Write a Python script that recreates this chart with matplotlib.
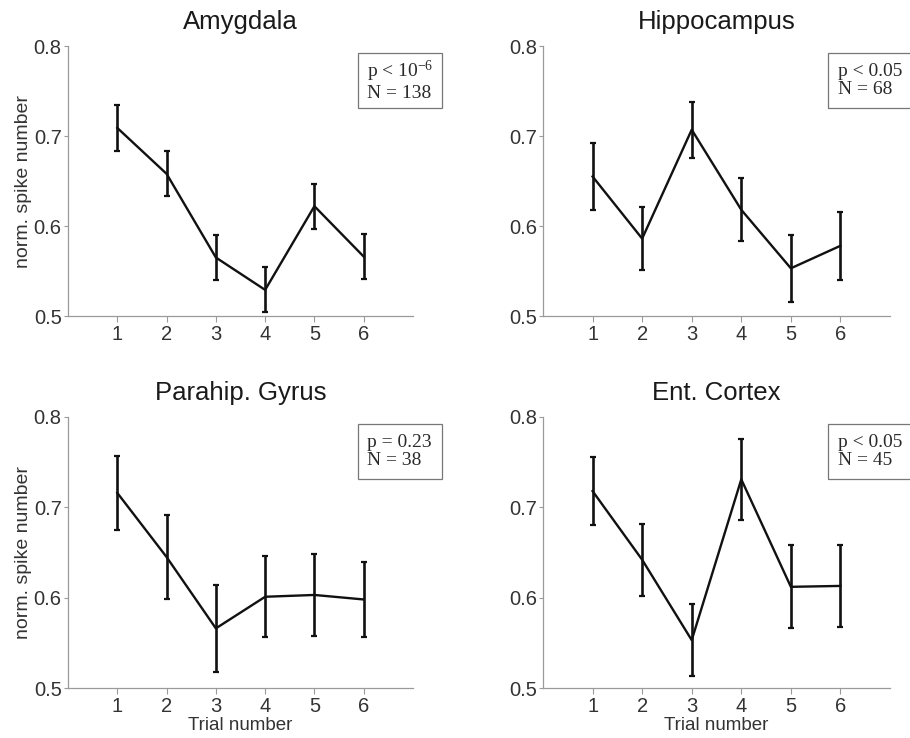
import matplotlib
matplotlib.use("Agg")
import matplotlib.pyplot as plt
from matplotlib.patches import Rectangle
import numpy as np

titles = ["Amygdala", "Hippocampus", "Parahip. Gyrus", "Ent. Cortex"]
trials = [1, 2, 3, 4, 5, 6]
amygdala_mean = [0.709, 0.658, 0.565, 0.529, 0.622, 0.566]
amygdala_err = [0.026, 0.025, 0.025, 0.025, 0.025, 0.025]
hippocampus_mean = [0.655, 0.586, 0.707, 0.618, 0.553, 0.578]
hippocampus_err = [0.037, 0.035, 0.031, 0.035, 0.037, 0.038]
parahip_mean = [0.716, 0.645, 0.566, 0.601, 0.603, 0.598]
parahip_err = [0.041, 0.047, 0.048, 0.045, 0.045, 0.042]
entcortex_mean = [0.718, 0.642, 0.553, 0.731, 0.612, 0.613]
entcortex_err = [0.038, 0.040, 0.040, 0.045, 0.046, 0.045]
p_labels = [r"p < 10$\mathregular{^{-6}}$", "p < 0.05", "p = 0.23", "p < 0.05"]
n_labels = ["N = 138", "N = 68", "N = 38", "N = 45"]
yticks = [0.5, 0.6, 0.7, 0.8]

means = [amygdala_mean, hippocampus_mean, parahip_mean, entcortex_mean]
errs = [amygdala_err, hippocampus_err, parahip_err, entcortex_err]

plt.rcParams['font.family'] = ['Liberation Sans', 'DejaVu Sans']
plt.rcParams['mathtext.fontset'] = 'custom'
plt.rcParams['mathtext.rm'] = 'Liberation Serif'

fig = plt.figure(figsize=(9.1, 7.38), dpi=100)
W, H = 910, 738
positions = [
    (68, 413, 46, 316),
    (543, 890, 46, 316),
    (68, 413, 417, 688),
    (543, 890, 417, 688),
]
box_left = [0.84, 0.821, 0.84, 0.821]
spine_col = "#9a9a9a"
text_col = "#333333"

for i in range(4):
    x0, x1, yt, yb = positions[i]
    ax = fig.add_axes([x0 / W, 1 - yb / H, (x1 - x0) / W, (yb - yt) / H])
    ax.errorbar(trials, means[i], yerr=errs[i], color="#111111", lw=1.7,
                elinewidth=1.9, capsize=1.9, capthick=1.6)
    ax.set_xlim(0, 7)
    ax.set_ylim(0.5, 0.8)
    ax.set_xticks(trials)
    ax.set_yticks(yticks)
    ax.set_yticklabels([f"{v:.1f}" for v in yticks])
    for s in ["top", "right"]:
        ax.spines[s].set_visible(False)
    for s in ["left", "bottom"]:
        ax.spines[s].set_color(spine_col)
        ax.spines[s].set_linewidth(0.9)
    ax.tick_params(axis="x", direction="out", length=4, width=0.8, color=spine_col,
                   labelsize=14.5, labelcolor=text_col, pad=2.5)
    ax.tick_params(axis="y", direction="out", length=3, width=0.8, color=spine_col,
                   labelsize=14.5, labelcolor=text_col, pad=1.5)
    ax.set_title(titles[i], fontsize=18.5, color="#1a1a1a", pad=12)
    if i % 2 == 0:
        ax.set_ylabel("norm. spike number", fontsize=14, color=text_col, labelpad=1)
    if i >= 2:
        ax.set_xlabel("Trial number", fontsize=13.5, color=text_col, labelpad=0.5)
    rect = Rectangle((box_left[i], 0.77), 0.244, 0.204, transform=ax.transAxes,
                     fill=False, edgecolor="#777777", lw=0.9, clip_on=False)
    ax.add_patch(rect)
    ax.text(box_left[i] + 0.028, 0.872, p_labels[i] + "\n" + n_labels[i],
            transform=ax.transAxes, ha="left", va="center",
            family=["Liberation Serif", "DejaVu Serif"], fontsize=14,
            color="#2a2a2a", linespacing=1.05, clip_on=False)

fig.savefig("out.png", dpi=100)
